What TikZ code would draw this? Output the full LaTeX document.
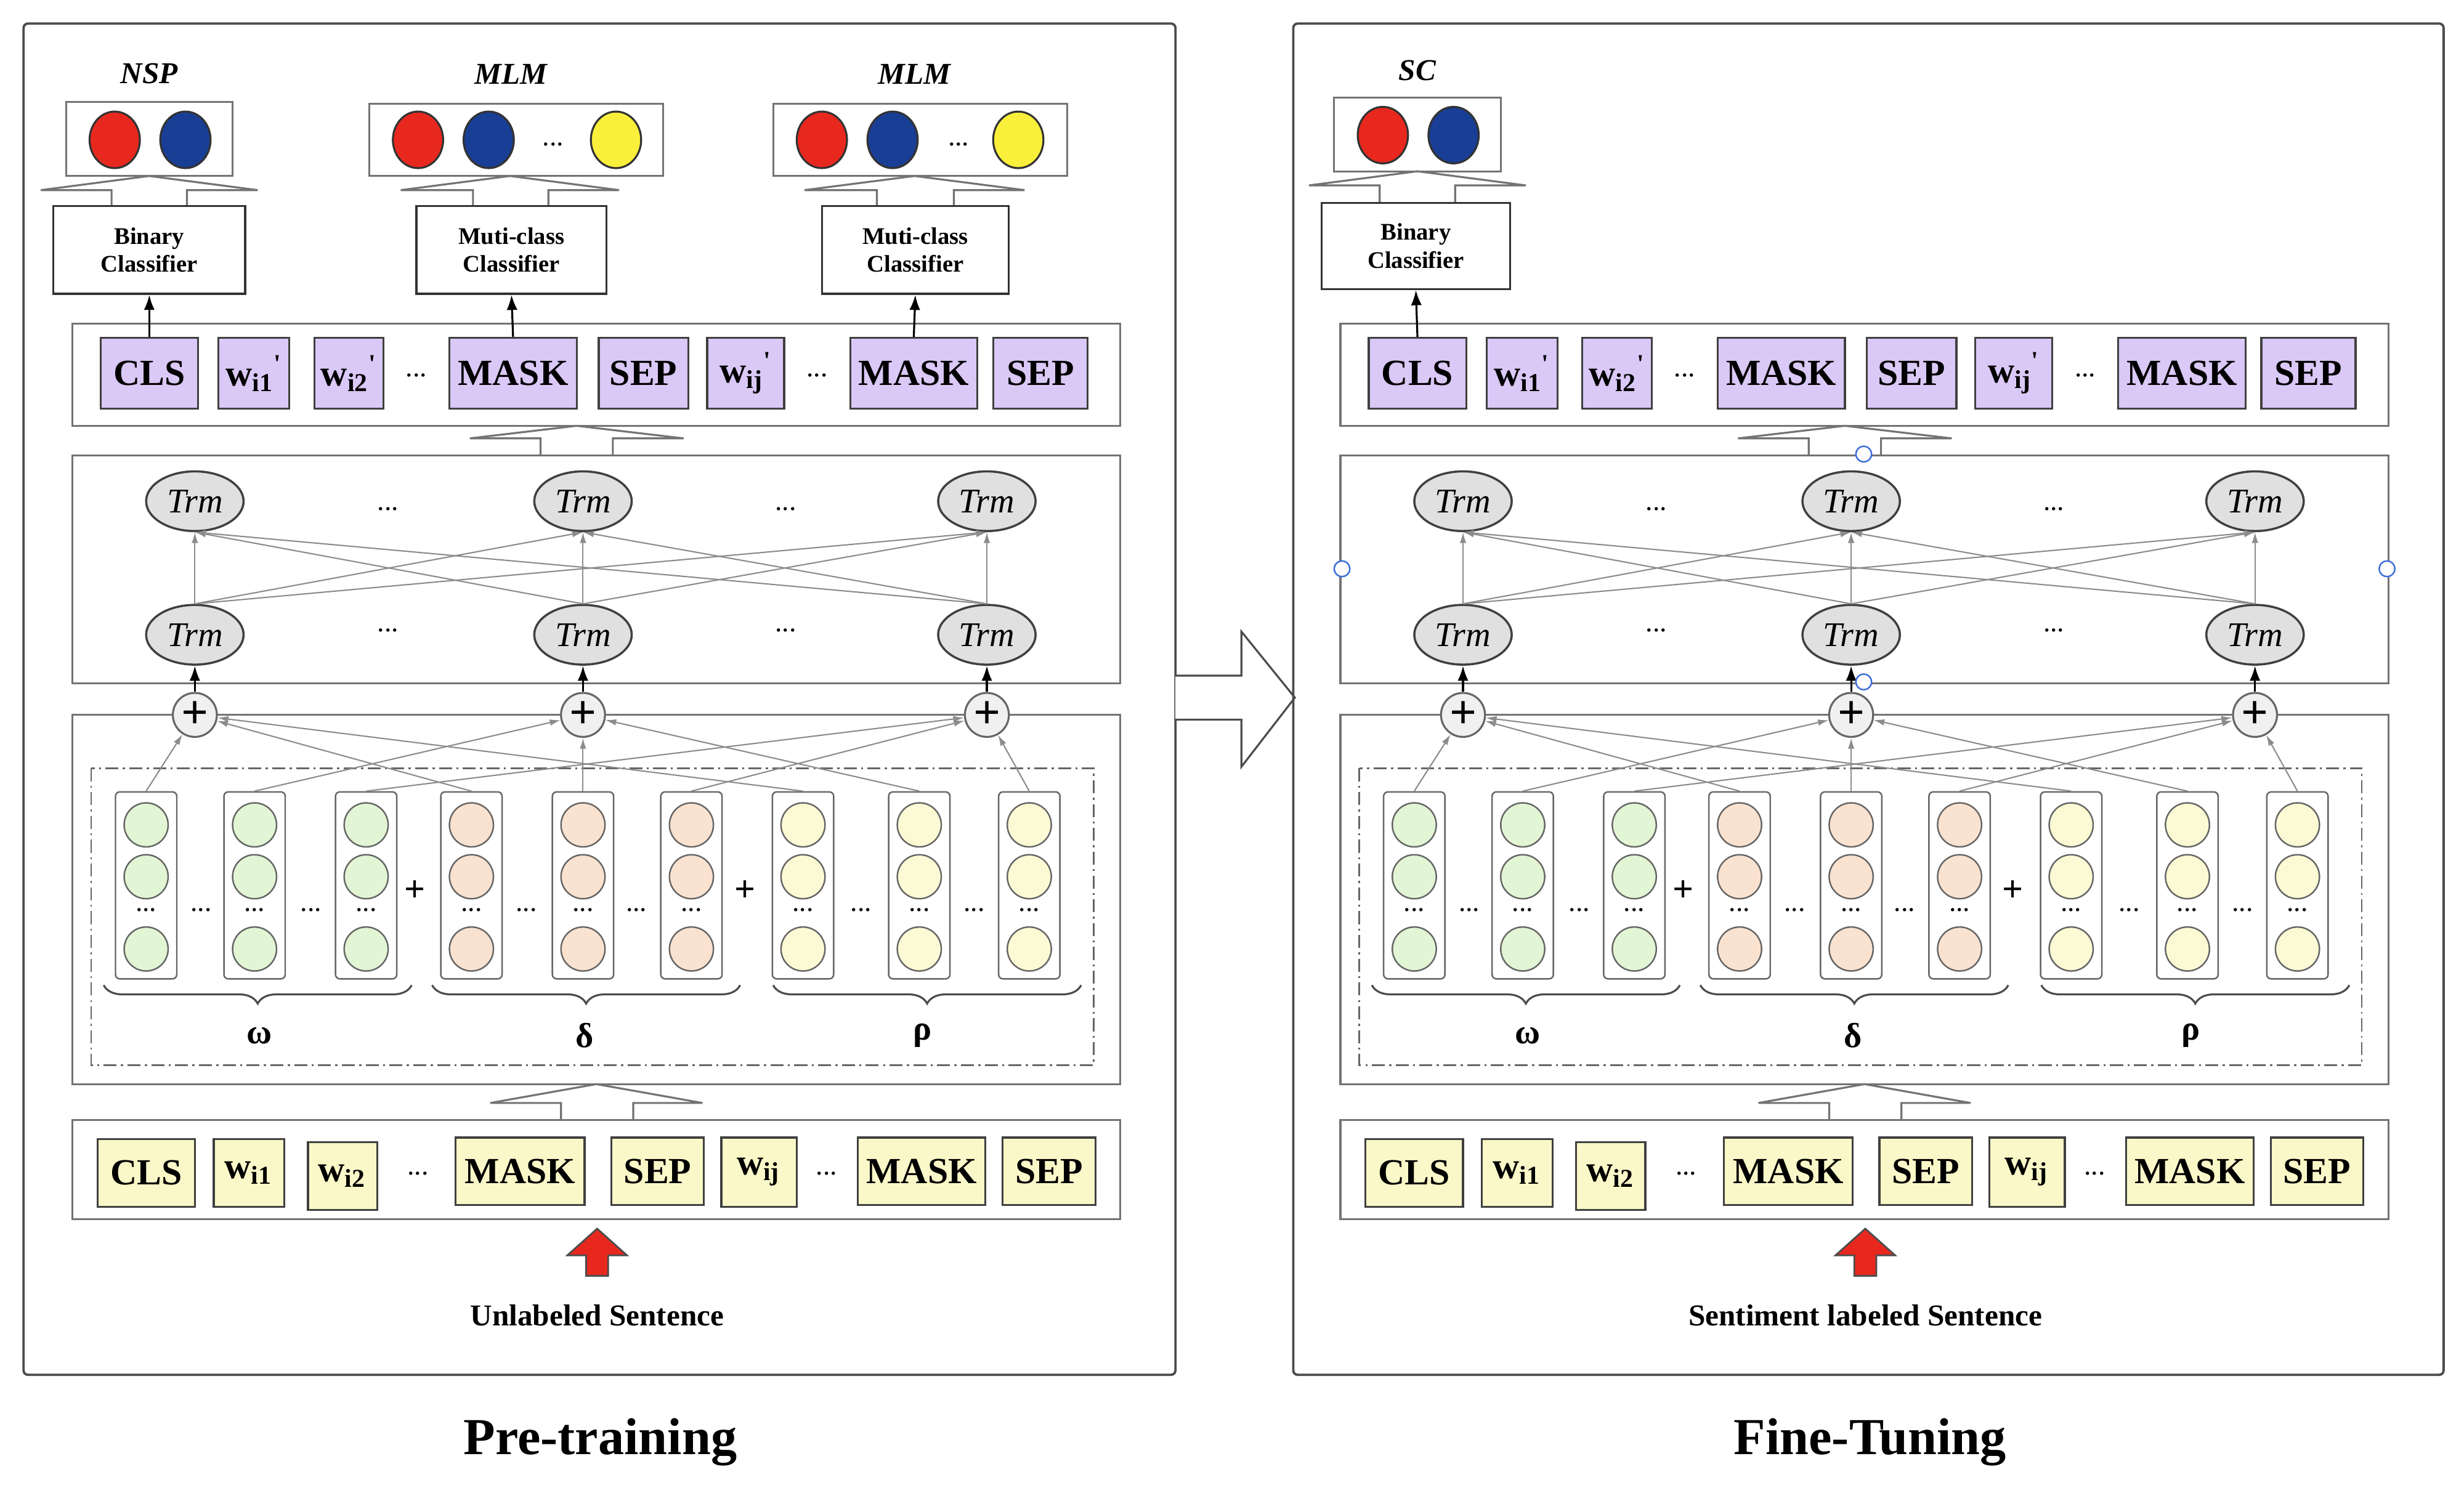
\documentclass[tikz,border=0pt]{standalone}
\usepackage{fontspec}
\setmainfont{Liberation Serif}
\usetikzlibrary{arrows.meta,shapes.geometric,decorations.pathreplacing}
\def\u{0.02551cm}
\definecolor{lav}{RGB}{218,200,246}
\definecolor{tyel}{RGB}{250,248,200}
\definecolor{cgreen}{RGB}{226,245,212}
\definecolor{cpeach}{RGB}{250,226,208}
\definecolor{cyel}{RGB}{252,250,212}
\definecolor{ored}{RGB}{232,40,30}
\definecolor{oblue}{RGB}{25,62,150}
\definecolor{oyel}{RGB}{250,240,60}
\definecolor{hand}{RGB}{60,110,220}
\tikzset{
 frame/.style={draw=black!70,line width=1.1pt,rounded corners=2pt},
 box/.style={draw=black!55,line width=0.9pt},
 tok/.style={draw=black!75,line width=0.9pt,inner sep=0pt,font=\fontsize{17}{17}\selectfont\bfseries},
 tokL/.style={tok,fill=lav},
 tokY/.style={tok,fill=tyel},
 cls/.style={draw=black!80,line width=0.9pt,inner sep=0pt,align=center,font=\fontsize{11}{13}\selectfont\bfseries},
 outc/.style={ellipse,draw=black!80,line width=0.9pt,minimum width=32*\u,minimum height=36*\u,inner sep=0pt},
 trm/.style={ellipse,draw=black!75,line width=1pt,fill=black!12,minimum width=62*\u,minimum height=38*\u,inner sep=0pt,font=\fontsize{16}{16}\selectfont\itshape},
 plusn/.style={circle,draw=black!60,line width=0.9pt,fill=black!6,minimum size=28*\u,inner sep=0pt,font=\fontsize{22}{22}\selectfont\bfseries},
 colb/.style={draw=black!60,line width=0.7pt,rounded corners=2pt,minimum width=39*\u,minimum height=119*\u,inner sep=0pt},
 emb/.style={draw=black!60,line width=0.7pt},
 hollow/.style={draw=black!55,line width=0.9pt,fill=white},
 lbl/.style={font=\fontsize{14}{14}\selectfont\bfseries},
 dots/.style={font=\fontsize{13}{13}\selectfont},
 thinar/.style={draw=black!45,line width=0.6pt,-{Latex[length=5pt,width=3pt]}},
 blkar/.style={draw=black,line width=0.9pt,-{Latex[length=7pt,width=5pt]}},
}
\newcommand\tok[7]{\node[#1,minimum width={(#4-#3)*\u},minimum height={(#6-#5)*\u}] (#2) at ({(#3+#4)/2},{(#5+#6)/2}) {#7};}
\newcommand\hup[7]{\draw[hollow] (#3,#7) -- (#3,#6) -- (#1,#6) -- ({(#1+#2)/2},#5) -- (#2,#6) -- (#4,#6) -- (#4,#7);}
\newcommand\ecol[4]{\node[colb] (#1c#2) at (#3,563.5) {};
 \foreach \yy in {525,558,604} \draw[emb,fill=#4] (#3,\yy) circle[radius=14];
 \node[dots] at (#3,579) {...};}
\newcommand\wt[2]{w\textsubscript{#1}\textsuperscript{#2}}
\newcommand\Common[2]{%
 \draw[box] (46,206) rectangle (713,271);
 \tok{tokL}{#1oCLS}{64}{126}{215}{260}{CLS}
 \tok{tokL}{#1ow1}{139}{184}{215}{260}{\wt{i1}{\textquotesingle}}
 \tok{tokL}{#1ow2}{200}{244}{215}{260}{\wt{i2}{\textquotesingle}}
 \node[dots] at (265,239) {...};
 \tok{tokL}{#1oM1}{286}{367}{215}{260}{MASK}
 \tok{tokL}{#1oS1}{381}{438}{215}{260}{SEP}
 \tok{tokL}{#1owij}{450}{499}{215}{260}{\wt{ij}{\textquotesingle}}
 \node[dots] at (520,239) {...};
 \tok{tokL}{#1oM2}{541}{622}{215}{260}{MASK}
 \tok{tokL}{#1oS2}{632}{692}{215}{260}{SEP}
 \hup{299}{435}{344}{390}{271}{279}{290}
 \draw[box] (46,290) rectangle (713,435);
 \foreach \i/\xx in {1/124,2/371,3/628}{
  \node[trm] (#1t\i) at (\xx,319) {Trm};
  \node[trm] (#1b\i) at (\xx,404) {Trm};}
 \foreach \xx in {247,500}{\node[dots] at (\xx,324) {...}; \node[dots] at (\xx,401) {...};}
 \foreach \i in {1,2,3}{\foreach \j in {1,2,3}{\draw[thinar] (#1b\i.north) -- (#1t\j.south);}}
 \draw[box] (46,455) rectangle (713,690);
 \foreach \i/\xx in {1/124,2/371,3/628}{\node[plusn] (#1p\i) at (\xx,455) {+};
   \draw[blkar] (#1p\i) -- (#1b\i);}
 \draw[emb,dash pattern=on 6pt off 2pt on 1pt off 2pt] (58,489) rectangle (696,678);
 \ecol{#1}{1}{93}{cgreen}\ecol{#1}{2}{162}{cgreen}\ecol{#1}{3}{233}{cgreen}
 \ecol{#1}{4}{300}{cpeach}\ecol{#1}{5}{371}{cpeach}\ecol{#1}{6}{440}{cpeach}
 \ecol{#1}{7}{511}{cyel}\ecol{#1}{8}{585}{cyel}\ecol{#1}{9}{655}{cyel}
 \foreach \xx in {128,198,335,405,548,620}{\node[dots] at (\xx,579) {...};}
 \node[font=\fontsize{17}{17}\selectfont\bfseries] at (264,567) {+};
 \node[font=\fontsize{17}{17}\selectfont\bfseries] at (474,567) {+};
 \foreach \k/\p in {1/1,2/2,3/3,4/1,5/2,6/3,7/1,8/2,9/3}{\draw[thinar] (#1c\k.north) -- (#1p\p);}
 \foreach \a/\b/\m/\g in {66/262/165/ω,275/471/372/δ,492/688/587/ρ}{
  \draw[black!70,line width=0.9pt,decorate,decoration={brace,mirror,amplitude=0.3cm}] (\a,627) -- (\b,627);
  \node[font=\fontsize{16}{16}\selectfont\bfseries] at (\m,659) {\g};}
 \hup{312}{447}{357}{403}{690}{702}{713}
 \draw[box] (46,713) rectangle (713,776);
 \tok{tokY}{#1iCLS}{62}{124}{725}{768}{CLS}
 \tok{tokY}{#1iw1}{136}{181}{725}{768}{\wt{i1}{}}
 \tok{tokY}{#1iw2}{196}{240}{727}{770}{\wt{i2}{}}
 \node[dots] at (266,747) {...};
 \tok{tokY}{#1iM1}{290}{372}{724}{767}{MASK}
 \tok{tokY}{#1iS1}{389}{448}{724}{767}{SEP}
 \tok{tokY}{#1iwij}{459}{507}{724}{768}{\wt{ij}{}}
 \node[dots] at (526,747) {...};
 \tok{tokY}{#1iM2}{546}{627}{724}{767}{MASK}
 \tok{tokY}{#1iS2}{638}{697}{724}{767}{SEP}
 \draw[draw=black!70,line width=0.8pt,fill=ored] (373,812) -- (373,799) -- (361,799) -- (380,782) -- (399,799) -- (387,799) -- (387,812) -- cycle;
 \node[lbl] at (380,837) {#2};
}
\begin{document}
\begin{tikzpicture}[x=\u,y=-\u]
\useasboundingbox (0,0) rectangle (1568,947);
\fill[white] (0,0) rectangle (1568,947);
\draw[frame] (15,15) rectangle (748,875);
\Common{L}{Unlabeled Sentence}
\node[font=\fontsize{14}{14}\selectfont\bfseries\itshape] at (95,47) {NSP};
\node[font=\fontsize{14}{14}\selectfont\bfseries\itshape] at (325,47) {MLM};
\node[font=\fontsize{14}{14}\selectfont\bfseries\itshape] at (582,47) {MLM};
\draw[box] (42,65) rectangle (148,112);
\node[outc,fill=ored] at (73,89) {}; \node[outc,fill=oblue] at (118,89) {};
\draw[box] (235,66) rectangle (422,112);
\node[outc,fill=ored] at (266,89) {}; \node[outc,fill=oblue] at (311,89) {};
\node[dots] at (352,92) {...}; \node[outc,fill=oyel] at (392,89) {};
\draw[box] (492,66) rectangle (679,112);
\node[outc,fill=ored] at (523,89) {}; \node[outc,fill=oblue] at (568,89) {};
\node[dots] at (610,92) {...}; \node[outc,fill=oyel] at (648,89) {};
\hup{26}{164}{71}{119}{112}{121}{131}
\hup{255}{394}{301}{349}{112}{121}{131}
\hup{512}{652}{558}{607}{112}{121}{131}
\tok{cls}{Lbc}{34}{156}{131}{187}{Binary\\Classifier}
\tok{cls}{Lmc1}{265}{386}{131}{187}{Muti-class\\Classifier}
\tok{cls}{Lmc2}{523}{642}{131}{187}{Muti-class\\Classifier}
\draw[blkar] (LoCLS.north) -- (Lbc.south);
\draw[blkar] (LoM1.north) -- (Lmc1.south);
\draw[blkar] (LoM2.north) -- (Lmc2.south);
\draw[hollow,draw=black!70] (748,430) -- (790,430) -- (790,402) -- (824,444) -- (790,488) -- (790,458) -- (748,458);
\draw[frame] (823,15) rectangle (1555,875);
\begin{scope}[shift={(807,0)}]
\Common{R}{Sentiment labeled Sentence}
\node[font=\fontsize{14}{14}\selectfont\bfseries\itshape] at (95,45) {SC};
\draw[box] (42,62) rectangle (148,109);
\node[outc,fill=ored] at (73,86) {}; \node[outc,fill=oblue] at (118,86) {};
\hup{26}{164}{71}{119}{109}{118}{129}
\tok{cls}{Rbc}{34}{154}{129}{184}{Binary\\Classifier}
\draw[blkar] (RoCLS.north) -- (Rbc.south);
\end{scope}
\foreach \xx/\yy in {1186/289,854/362,1519/362,1186/434}
 \draw[hand,line width=0.7pt,fill=white] (\xx,\yy) circle[radius=5];
\node[font=\fontsize{24}{24}\selectfont\bfseries] at (382,918) {Pre-training};
\node[font=\fontsize{24}{24}\selectfont\bfseries] at (1190,918) {Fine-Tuning};
\end{tikzpicture}
\end{document}
